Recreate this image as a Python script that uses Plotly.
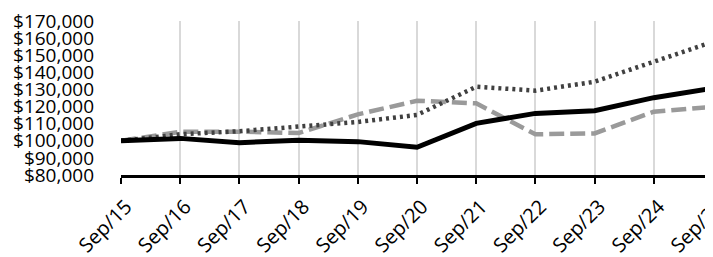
import plotly.graph_objects as go

categories = ["Sep/15", "Sep/16", "Sep/17", "Sep/18", "Sep/19", "Sep/20",
              "Sep/21", "Sep/22", "Sep/23", "Sep/24", "Sep/25"]
fund = [100000, 101400, 98900, 100300, 99500, 96200, 110200, 116000, 117600, 125200, 130700]
index_dotted = [100000, 103800, 105600, 108400, 111000, 115100, 131600, 129300, 134500, 146200, 157900]
index_dashed = [100000, 105200, 105300, 104500, 115400, 123400, 121900, 103800, 104300, 117000, 119900]
y_ticks = list(range(80000, 170001, 10000))
y_tick_labels = ["${:,}".format(v) for v in y_ticks]

fig = go.Figure()
fig.add_trace(go.Scatter(x=categories, y=index_dashed, mode="lines",
                         line=dict(color="#9a9a9a", width=4.5, dash="15px,6px"),
                         showlegend=False, cliponaxis=False))
fig.add_trace(go.Scatter(x=categories, y=index_dotted, mode="lines",
                         line=dict(color="#404040", width=4.5, dash="3px,4px"),
                         showlegend=False, cliponaxis=False))
fig.add_trace(go.Scatter(x=categories, y=fund, mode="lines",
                         line=dict(color="#000000", width=5),
                         showlegend=False, cliponaxis=False))

fig.update_layout(
    width=705, height=249,
    margin=dict(l=113, r=0, t=13, b=82),
    paper_bgcolor="white", plot_bgcolor="white",
    font=dict(family="Open Sans", size=19, color="black"),
    xaxis=dict(
        type="category", range=[0, 10], automargin=False,
        showgrid=True, gridcolor="#d9d9d9", gridwidth=2,
        showline=True, linecolor="black", linewidth=3,
        ticks="outside", ticklen=6, tickwidth=2, tickcolor="black",
        tickangle=-45, tickfont=dict(size=20),
        ticklabelstandoff=3, ticklabelshift=5,
        ticklabeloverflow="allow",
    ),
    yaxis=dict(
        range=[80000, 170000], automargin=False,
        tickvals=y_ticks, ticktext=y_tick_labels,
        showgrid=False, zeroline=False, showline=False,
        tickfont=dict(size=19),
        ticklabelstandoff=26,
        ticklabeloverflow="allow",
    ),
)
fig.write_html("out.html")
